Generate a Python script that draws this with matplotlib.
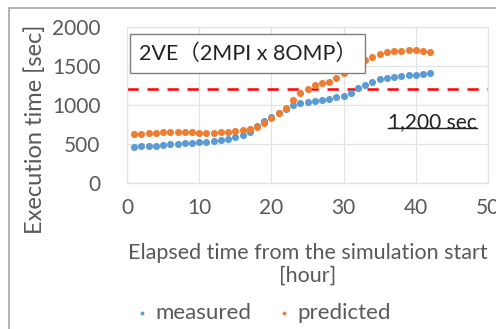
import matplotlib
matplotlib.use("Agg")
import matplotlib.pyplot as plt
from matplotlib.lines import Line2D
from matplotlib.patches import Rectangle

hours = list(range(1, 43))
measured = [466, 470, 474, 480, 487, 494, 500, 507, 515, 522, 530, 540, 552, 568,
            590, 615, 660, 730, 790, 840, 900, 950, 995, 1025, 1040, 1052, 1065,
            1080, 1098, 1120, 1160, 1215, 1260, 1300, 1330, 1350, 1365, 1375, 1380,
            1388, 1395, 1405]
predicted = [628, 632, 638, 645, 650, 655, 658, 652, 648, 645, 645, 645, 650, 655,
             668, 680, 695, 720, 770, 830, 900, 960, 1060, 1150, 1210, 1255, 1280,
             1290, 1345, 1410, 1470, 1530, 1580, 1620, 1650, 1675, 1690, 1698, 1700,
             1700, 1693, 1678]
threshold = 1200
series_names = ["measured", "predicted"]
x_ticks = [0, 10, 20, 30, 40, 50]
y_ticks = [0, 500, 1000, 1500, 2000]
title_text = "2VE（2MPI x 8OMP）"
threshold_label = "1,200 sec"
xlabel = "Elapsed time from the simulation start\n[hour]"
ylabel = "Execution time [sec]"

FAM = ["Lato", "Noto Sans CJK JP", "DejaVu Sans"]
plt.rcParams["font.family"] = FAM
GRAY = "#595959"
W, H = 496, 329

fig = plt.figure(figsize=(W/100, H/100), dpi=100)
ax = fig.add_axes([127/W, 1 - 183/H, (488-127)/W, (183-27)/H])

# outer chart border
fig.patches.append(Rectangle((9/W, -0.1), 1.2, (1 - 8/H) + 0.1,
                             transform=fig.transFigure, fill=False,
                             edgecolor="#A6A6A6", linewidth=1.2))

ax.scatter(hours, measured, s=26, color="#5B9BD5", label=series_names[0], zorder=3, linewidths=0)
ax.scatter(hours, predicted, s=26, color="#ED7D31", label=series_names[1], zorder=3, linewidths=0)
ax.axhline(threshold, color="#FF0000", linestyle=(0, (4.5, 3.5)), linewidth=1.8, zorder=2)

ax.set_xlim(0, 50)
ax.set_ylim(0, 2000)
ax.set_xticks(x_ticks)
ax.set_yticks(y_ticks)
ax.grid(True, color="#E3E3E3", linewidth=0.9)
ax.set_axisbelow(True)
for s in ax.spines.values():
    s.set_color("#E3E3E3")
    s.set_linewidth(0.9)
ax.tick_params(length=0, labelsize=15, colors=GRAY)
ax.tick_params(axis="x", pad=11)
ax.tick_params(axis="y", pad=19)

fig.text(307.5/W, 1 - 264/H, xlabel, ha="center", va="center", fontsize=15.5,
         color=GRAY, linespacing=1.18)
fig.text(35/W, 1 - 129/H, ylabel, ha="center", va="center", rotation=90,
         fontsize=17, color=GRAY)

ax.text(0.032, 0.895, title_text, transform=ax.transAxes, fontsize=15.5,
        color="#222222", va="top", ha="left",
        bbox=dict(boxstyle="square,pad=0.42", facecolor="white", edgecolor="#7F7F7F", linewidth=1.0))

t = ax.text(0.97, 0.355, threshold_label, transform=ax.transAxes, fontsize=15,
            color="#222222", va="baseline", ha="right")

leg = fig.legend(loc="center", bbox_to_anchor=(260/W, 1 - 313/H), ncol=2, frameon=False,
                 fontsize=16, handletextpad=0.0, columnspacing=0.85, markerscale=0.55,
                 handlelength=1.2)
for txt in leg.get_texts():
    txt.set_color(GRAY)

fig.canvas.draw()
bb = t.get_window_extent().transformed(fig.transFigure.inverted())
uy = bb.y0 + 0.012
fig.lines.append(Line2D([bb.x0, bb.x1], [uy, uy], transform=fig.transFigure,
                        color="#222222", linewidth=1.0))

fig.savefig("out.png", dpi=100)
